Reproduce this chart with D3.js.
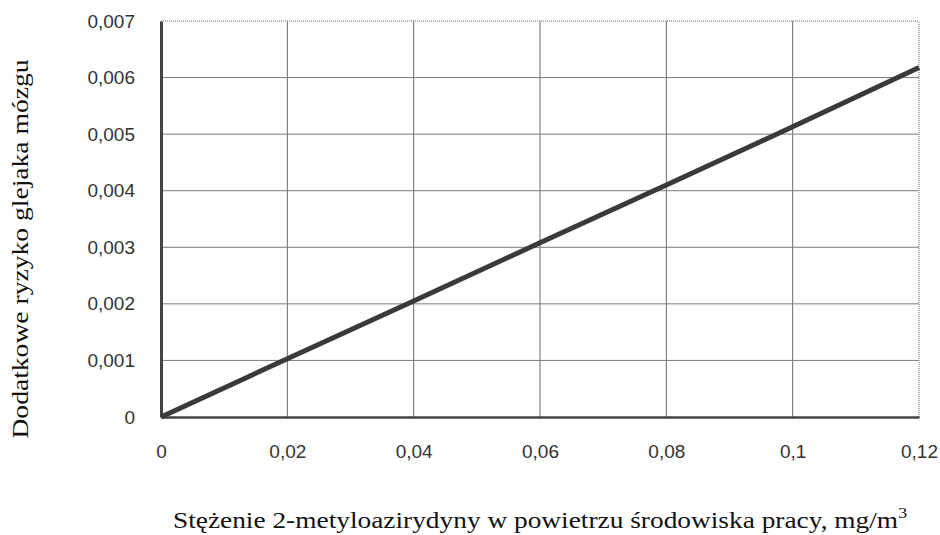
<!DOCTYPE html>
<html>
<head>
<meta charset="utf-8">
<script src="https://cdn.jsdelivr.net/npm/d3@7"></script>
<style>
  body { margin: 0; background: #fff; }
  svg { display: block; }
  .tick text { font-family: "Liberation Sans", Arial, sans-serif; font-size: 19px; fill: #333; }
  .title { font-family: "Liberation Serif", "Times New Roman", serif; font-size: 23px; fill: #111; }
</style>
</head>
<body>
<div id="chart"></div>
<script>
// concentration (mg/m3) and additional risk
const conc = [0, 0.02, 0.04, 0.06, 0.08, 0.1, 0.12];
const risk = [0, 0.00103, 0.00205, 0.00308, 0.0041, 0.00513, 0.00618];
const xTicks = [0, 0.02, 0.04, 0.06, 0.08, 0.1, 0.12];
const yTicks = [0, 0.001, 0.002, 0.003, 0.004, 0.005, 0.006, 0.007];

const width = 940;
const height = 535;
const margin = { top: 21, right: 21, bottom: 118, left: 161 };

const svg = d3.select('#chart')
    .append('svg')
    .attr('width', width)
    .attr('height', height);

const xScale = d3.scaleLinear()
    .domain([0, 0.12])
    .range([margin.left, width - margin.right]);

const yScale = d3.scaleLinear()
    .domain([0, 0.007])
    .range([height - margin.bottom, margin.top]);

const fmt = (d) => d === 0 ? '0' : String(d).replace('.', ',');

// gridlines
svg.append('g')
    .selectAll('line')
    .data(xTicks.slice(1, -1))
    .join('line')
    .attr('x1', (d) => xScale(d)).attr('x2', (d) => xScale(d))
    .attr('y1', yScale(0)).attr('y2', yScale(0.007))
    .attr('stroke', '#6a6a6a').attr('stroke-width', 1);

svg.append('g')
    .selectAll('line')
    .data(yTicks.slice(1, -1))
    .join('line')
    .attr('y1', (d) => yScale(d)).attr('y2', (d) => yScale(d))
    .attr('x1', xScale(0)).attr('x2', xScale(0.12))
    .attr('stroke', '#7a7a7a').attr('stroke-width', 1);

// top and right border (dotted, light)
svg.append('line')
    .attr('x1', xScale(0)).attr('x2', xScale(0.12))
    .attr('y1', yScale(0.007)).attr('y2', yScale(0.007))
    .attr('stroke', '#999').attr('stroke-width', 1.5).attr('stroke-dasharray', '1,1');
svg.append('line')
    .attr('x1', xScale(0.12)).attr('x2', xScale(0.12))
    .attr('y1', yScale(0)).attr('y2', yScale(0.007))
    .attr('stroke', '#999').attr('stroke-width', 1.5).attr('stroke-dasharray', '1,1');

// axes
const xAxis = svg.append('g')
    .attr('transform', `translate(0, ${yScale(0)})`)
    .call(d3.axisBottom(xScale).tickValues(xTicks).tickFormat(fmt).tickSize(0).tickPadding(28));
xAxis.select('.domain').attr('stroke', '#444').attr('stroke-width', 2.5);

const yAxis = svg.append('g')
    .attr('transform', `translate(${xScale(0)}, 0)`)
    .call(d3.axisLeft(yScale).tickValues(yTicks).tickFormat(fmt).tickSize(0).tickPadding(26));
yAxis.select('.domain').attr('stroke', '#444').attr('stroke-width', 3);

// data line
svg.append('path')
    .datum(conc.map((c, i) => [c, risk[i]]))
    .attr('fill', 'none')
    .attr('stroke', '#3a3a3a')
    .attr('stroke-width', 5)
    .attr('d', d3.line().x((d) => xScale(d[0])).y((d) => yScale(d[1])));

// titles (source glyphs are wide, so stretch along the text)
svg.append('text')
    .attr('class', 'title')
    .attr('transform', 'translate(28, 249) rotate(-90) scale(1.2, 1)')
    .attr('text-anchor', 'middle')
    .text('Dodatkowe ryzyko glejaka mózgu');

const xt = svg.append('text')
    .attr('class', 'title')
    .attr('transform', 'translate(540, 528) scale(1.19, 1)')
    .attr('text-anchor', 'middle');
xt.append('tspan').text('Stężenie 2-metyloazirydyny w powietrzu środowiska pracy, mg/m');
xt.append('tspan').attr('dy', -10).attr('font-size', 15).text('3');
</script>
</body>
</html>
